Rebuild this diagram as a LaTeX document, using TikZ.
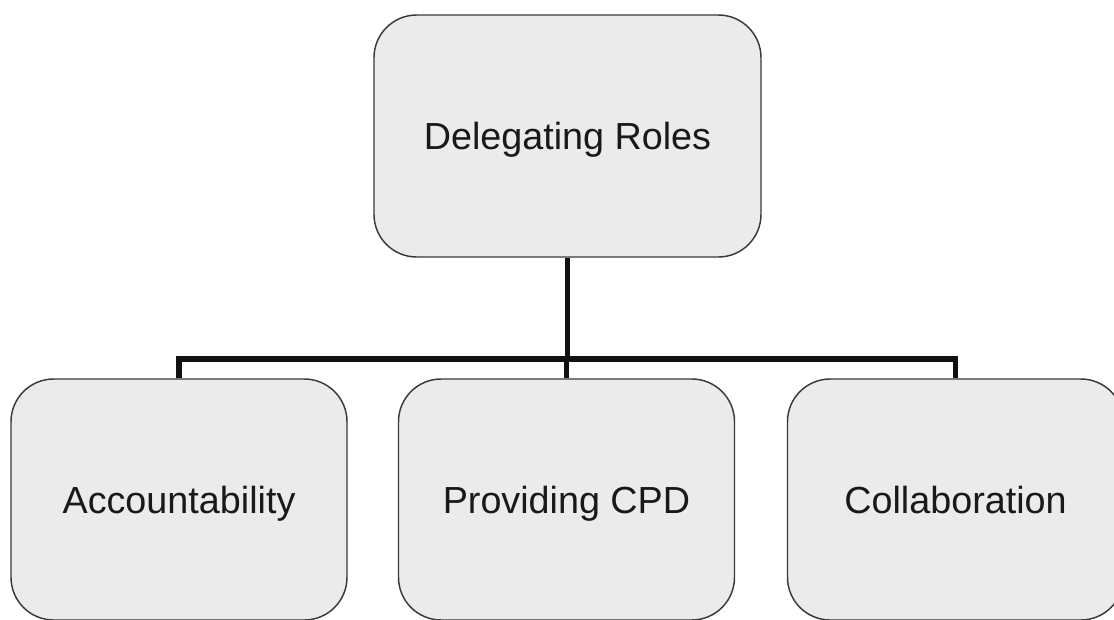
\documentclass[tikz,border=0pt]{standalone}
\usepackage{fontspec}
\setmainfont{Liberation Sans}
\definecolor{boxfill}{HTML}{EBEBEB}
\definecolor{boxline}{HTML}{3A3A3A}
\definecolor{conn}{HTML}{111111}
\begin{document}
\begin{tikzpicture}[x=0.75pt,y=-0.75pt,
  rolebox/.style={draw=boxline,fill=boxfill,line width=1.1pt,rounded corners=32pt,
    rectangle,inner sep=0pt,font=\fontsize{28.3}{34}\selectfont,text=black!90,
    text height=20.3pt,text depth=0pt},
  topbox/.style={rolebox,minimum width=290.25pt,minimum height=181.5pt},
  subbox/.style={rolebox,minimum width=252pt,minimum height=180.75pt},
  link/.style={draw=conn,line width=3.8pt}]
\useasboundingbox (0,0) rectangle (1114,619);
\node[topbox] (top) at (567.5,136) {Delegating Roles};
\node[subbox] (acc) at (179,499.5) {Accountability};
\node[subbox] (cpd) at (566.5,499.5) {Providing CPD};
\node[subbox] (col) at (955.5,499.5) {Collaboration};
\coordinate (j) at (567,359);
\draw[link] (top.south) -- (top.south |- j);
\draw[link] (acc.north) -- (acc.north |- j) -| (col.north);
\draw[link] (cpd.north) -- (cpd.north |- j);
\end{tikzpicture}
\end{document}
